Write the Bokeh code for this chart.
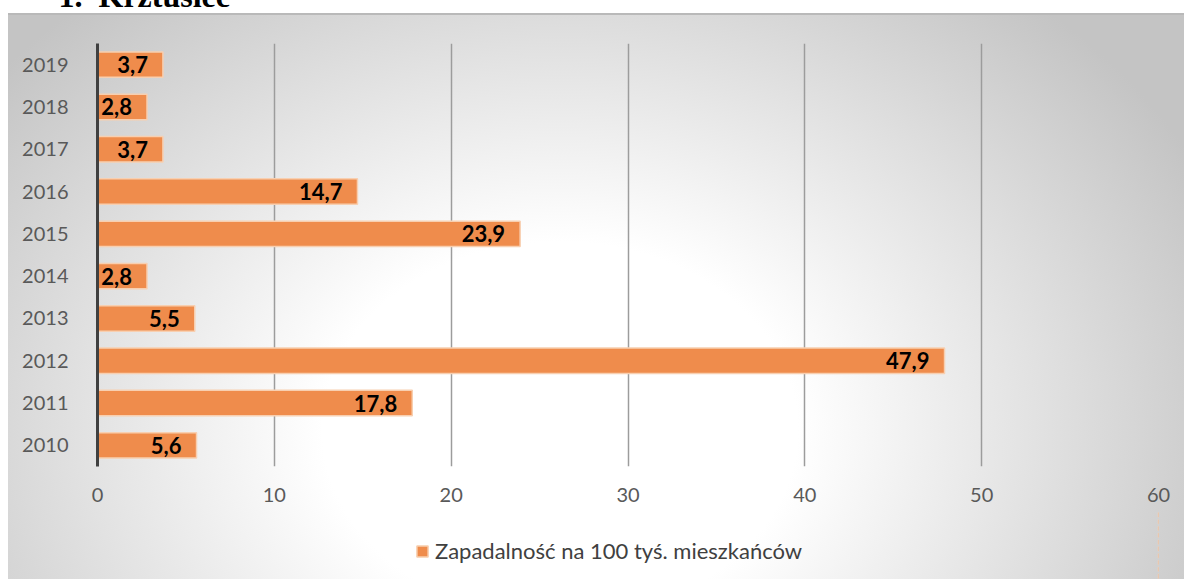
from bokeh.plotting import figure
from bokeh.layouts import column
from bokeh.models import ColumnDataSource, Range1d, FactorRange, FixedTicker, Legend, LegendItem, Title
from bokeh.core.properties import value
from bokeh.embed import file_html
from bokeh.resources import INLINE

# ---- data ----
years = ["2010", "2011", "2012", "2013", "2014", "2015", "2016", "2017", "2018", "2019"]
incidence = [5.6, 17.8, 47.9, 5.5, 2.8, 23.9, 14.7, 3.7, 2.8, 3.7]
x_ticks = [0, 10, 20, 30, 40, 50, 60]
series_name = "Zapadalność na 100 tyś. mieszkańców"
heading = "1.\u00a0\u00a0Krztusiec"

labels = [f"{v:.1f}".replace(".", ",") for v in incidence]
src = ColumnDataSource(dict(year=years, value=incidence, label=labels))

BAR_FILL = "#EF8C4C"
BAR_LINE = "#F8CFB0"

W = 1176
FL, FW, FH = 89, 1061, 423

p = figure(
    frame_width=FW, frame_height=FH,
    y_range=FactorRange(factors=years, range_padding=0),
    x_range=Range1d(0, 60),
    output_backend="svg", toolbar_location=None,
    min_border_left=FL, min_border_right=W - FL - FW,
    min_border_top=60, min_border_bottom=45,
)
p.border_fill_alpha = 0
p.background_fill_alpha = 0
p.outline_line_color = None

p.hbar(y="year", right="value", left=0, height=0.6, source=src,
       fill_color=BAR_FILL, line_color=BAR_LINE, line_width=1.5)

p.text(x="value", y="year", text="label", source=src, x_offset=-15,
       text_align="right", text_baseline="middle",
       text_font=value("Lato"), text_font_style="bold", text_font_size="22px",
       text_color="#000000")

# axes
p.xaxis.ticker = FixedTicker(ticks=x_ticks)
p.xaxis.axis_line_color = None
p.xaxis.major_tick_line_color = None
p.xaxis.minor_tick_line_color = None
p.xaxis.major_label_text_font = "Lato"
p.xaxis.major_label_text_font_size = "20px"
p.xaxis.major_label_text_color = "#595959"
p.xaxis.major_label_standoff = 15

p.yaxis.axis_line_color = "#404040"
p.yaxis.axis_line_width = 3
p.yaxis.major_tick_line_color = None
p.yaxis.minor_tick_line_color = None
p.yaxis.major_label_text_font = "Lato"
p.yaxis.major_label_text_font_size = "20px"
p.yaxis.major_label_text_color = "#595959"
p.yaxis.major_label_standoff = 23

p.xgrid.grid_line_color = "#9c9c9c"
p.xgrid.grid_line_width = 1.5
p.xgrid.ticker = FixedTicker(ticks=x_ticks)
p.ygrid.grid_line_color = None

# heading (cut off at the top of the page, as in the reference)
p.add_layout(Title(text=heading, align="left", offset=-39, standoff=60,
                   text_font="Liberation Serif", text_font_style="bold",
                   text_font_size="32px", text_color="#000000"), "above")

# legend strip below the chart (its helper renderer lies outside the strip's x range,
# so only the legend swatch is visible)
leg = figure(width=W, height=68, x_range=Range1d(-2, -1),
             y_range=FactorRange(factors=years),
             x_axis_location=None, y_axis_location=None,
             output_backend="svg", toolbar_location=None, min_border=0)
leg.grid.visible = False
leg.border_fill_alpha = 0
leg.background_fill_alpha = 0
leg.outline_line_color = None
swatch = leg.hbar(y="year", right="value", left=0, height=0.6, source=src,
                  fill_color=BAR_FILL, line_color=BAR_LINE, line_width=1.5)
legend = Legend(items=[LegendItem(label=series_name, renderers=[swatch])],
                location=(318, 15), orientation="horizontal",
                glyph_width=14, glyph_height=14, label_standoff=6,
                label_text_font="Lato", label_text_font_size="22px",
                label_text_color="#404040",
                background_fill_alpha=0, border_line_color=None,
                margin=0, padding=0)
leg.add_layout(legend)

layout = column(p, leg, spacing=0)
layout.styles = {
    "margin-top": "-55px",
    "margin-left": "8px",
    "background-image": "linear-gradient(#ffffff, #ffffff), linear-gradient(#b9b9b9, #b9b9b9), "
                        "radial-gradient(ellipse 720px 570px at 552px 485px, #ffffff 0%, #ffffff 33%, #c4c4c4 100%)",
    "background-size": "100% 68px, 100% 2px, 100% 100%",
    "background-position": "0 0, 0 68px, 0 0",
    "background-repeat": "no-repeat",
}

open("out.html", "w").write(file_html(layout, INLINE))
